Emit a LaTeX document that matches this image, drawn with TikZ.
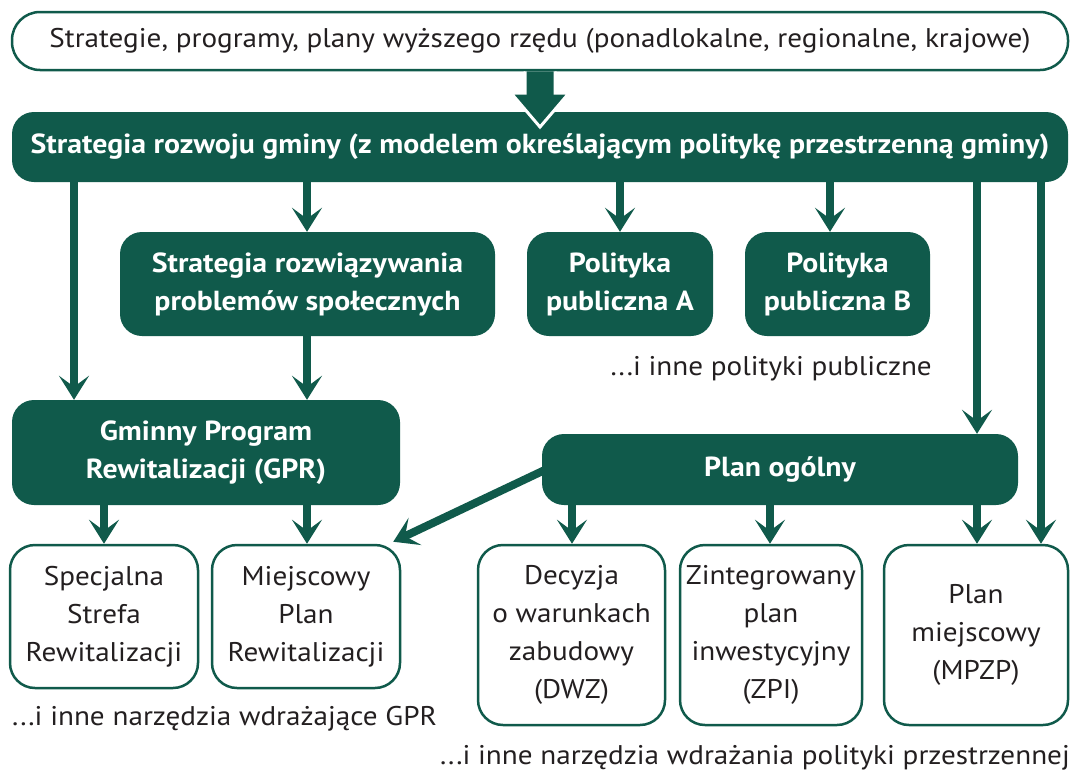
\documentclass[tikz,border=0pt]{standalone}
\usepackage{fontspec}
\setmainfont{PT Sans}[FakeStretch=1.08]
\usetikzlibrary{arrows.meta}
\definecolor{gr}{HTML}{105A4B}
\definecolor{tx}{HTML}{231F20}
\begin{document}
\begin{tikzpicture}[x=1pt,y=-1pt,
  gbox/.style={fill=gr,rounded corners=22pt,text=white,font=\fontsize{27.6}{38}\selectfont\bfseries,align=center,inner sep=0pt},
  wbox/.style={draw=gr,line width=2.5pt,fill=white,rounded corners=25pt,text=tx,font=\fontsize{27}{38}\selectfont,align=center,inner sep=0pt},
  arr/.style={draw=gr,line width=8pt,-{Stealth[length=24pt,width=30pt,inset=11pt]}},
  note/.style={text=tx,font=\fontsize{27}{30}\selectfont,inner sep=0pt}]
\useasboundingbox (0,0) rectangle (1073,771);
\node[wbox,minimum width=1056pt,minimum height=58pt,rounded corners=28pt] (top) at (540,41) {Strategie, programy, plany wyższego rzędu (ponadlokalne, regionalne, krajowe)};
\node[gbox,minimum width=1056pt,minimum height=70pt] (strat) at (540,147) {Strategia rozwoju gminy (z modelem określającym politykę przestrzenną gminy)};
\node[gbox,minimum width=375pt,minimum height=104pt] (srps) at (307.5,284) {Strategia rozwiązywania\\problemów społecznych};
\node[gbox,minimum width=186pt,minimum height=104pt] (polA) at (620,284) {Polityka\\publiczna A};
\node[gbox,minimum width=185pt,minimum height=104pt] (polB) at (837.5,284) {Polityka\\publiczna B};
\node[note,anchor=east] (inne1) at (932,369) {...i inne polityki publiczne};
\node[gbox,minimum width=388pt,minimum height=105pt] (gpr) at (206,452.5) {Gminny Program\\Rewitalizacji (GPR)};
\node[gbox,minimum width=476pt,minimum height=71pt] (plan) at (780,469.5) {Plan ogólny};
\node[wbox,minimum width=188pt,minimum height=143pt] (ssr) at (104,616.5) {Specjalna\\Strefa\\Rewitalizacji};
\node[wbox,minimum width=188pt,minimum height=143pt] (mpr) at (306,616.5) {Miejscowy\\Plan\\Rewitalizacji};
\node[wbox,minimum width=187pt,minimum height=180pt] (dwz) at (571.5,635) {Decyzja\\o warunkach\\zabudowy\\(DWZ)};
\node[wbox,minimum width=182pt,minimum height=180pt] (zpi) at (771,635) {Zintegrowany\\plan\\inwestycyjny\\(ZPI)};
\node[wbox,minimum width=184pt,minimum height=180pt] (mpzp) at (976,635) {Plan\\miejscowy\\(MPZP)};
\node[note,anchor=west] (inne2) at (12,719) {...i inne narzędzia wdrażające GPR};
\node[note,anchor=east] (inne3) at (1070,758) {...i inne narzędzia wdrażania polityki przestrzennej};
% big arrow
\filldraw[fill=gr,draw=white,line width=3pt] (525,70 |- top.south) -- (525,93) -- (511,93) -- (540,127) -- (569,93) -- (555,93) -- (555,70 |- top.south);
% arrows
\draw[arr] (74,0 |- strat.south) -- (74,0 |- gpr.north);
\draw[arr] (307,0 |- strat.south) -- (307,0 |- srps.north);
\draw[arr] (620,0 |- strat.south) -- (620,0 |- polA.north);
\draw[arr] (830,0 |- strat.south) -- (830,0 |- polB.north);
\draw[arr] (977,0 |- strat.south) -- (977,0 |- plan.north);
\draw[arr] (1041,0 |- strat.south) -- (1041,0 |- mpzp.north);
\draw[arr] (307,0 |- srps.south) -- (307,0 |- gpr.north);
\draw[arr] (104,0 |- gpr.south) -- (104,0 |- ssr.north);
\draw[arr] (307,0 |- gpr.south) -- (307,0 |- mpr.north);
\draw[arr] (572,0 |- plan.south) -- (572,0 |- dwz.north);
\draw[arr] (770,0 |- plan.south) -- (770,0 |- zpi.north);
\draw[arr] (977,0 |- plan.south) -- (977,0 |- mpzp.north);
\draw[arr] ([xshift=4pt]plan.west) -- ([xshift=-8pt,yshift=2pt]mpr.north east);
\end{tikzpicture}
\end{document}
